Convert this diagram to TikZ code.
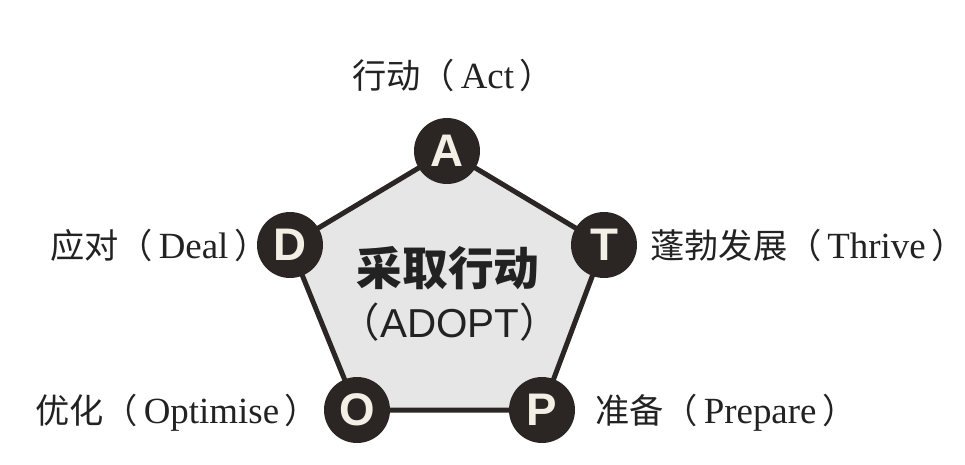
\documentclass[tikz,border=0pt]{standalone}
\usepackage{fontspec}
\setmainfont{Liberation Serif}
\setsansfont{Liberation Sans}
\newfontfamily\cjk{Noto Sans CJK SC}
\definecolor{dark}{HTML}{2B2624}
\definecolor{cream}{HTML}{F4EFE4}
\definecolor{penta}{HTML}{E6E6E6}
\definecolor{txt}{HTML}{222222}
\newcommand{\lat}[1]{{\fontsize{21}{22}\selectfont #1}}
\newcommand{\rp}{{\cjk ）}\kern-0.45em}
\begin{document}
\begin{tikzpicture}[x=0.02cm,y=-0.02cm,
  letter/.style={circle,fill=dark,minimum size=66*0.02cm,inner sep=0pt,text=cream,font=\sffamily\bfseries\fontsize{26}{26}\selectfont},
  lbl/.style={text=txt,font=\fontsize{19.5}{22}\selectfont,inner sep=0pt},
  edge/.style={line width=5*0.02cm,draw=dark}]
\useasboundingbox (0,0) rectangle (965,464);
\fill[white] (0,0) rectangle (965,464);
\coordinate (cA) at (447,151);
\coordinate (cT) at (604,245);
\coordinate (cP) at (542,410);
\coordinate (cO) at (357,410);
\coordinate (cD) at (290,245);
\fill[penta] (cA) -- (cT) -- (cP) -- (cO) -- (cD) -- cycle;
\draw[edge] (cA) -- (cT) -- (cP) -- (cO) -- (cD) -- cycle;
\node[letter] (A) at (cA) {A};
\node[letter] (T) at (cT) {T};
\node[letter] (P) at (cP) {P};
\node[letter] (O) at (cO) {O};
\node[letter] (D) at (cD) {D};
\node[text=txt,font=\cjk\bfseries\fontsize{26}{30}\selectfont,inner sep=0pt] (title) at (448,268) {采取行动};
\node[text=txt,font=\fontsize{23}{28}\selectfont,inner sep=0pt] (sub) at (450,322) {{\cjk （}{\sffamily ADOPT}{\cjk ）}};
\node[lbl,anchor=west] (lA) at (352,75) {{\cjk 行动（}\,\lat{Act}\,\rp};
\node[lbl,anchor=west] (lD) at (50,245) {{\cjk 应对（}\,\lat{Deal}\,\rp};
\node[lbl,anchor=west] (lT) at (650,245) {{\cjk 蓬勃发展（}\,\lat{Thrive}\,\rp};
\node[lbl,anchor=west] (lO) at (35,413) {{\cjk 优化（}\,\lat{Optimise}\,\rp};
\node[lbl,anchor=west] (lP) at (595,413) {{\cjk 准备（}\,\lat{Prepare}\,\rp};
\end{tikzpicture}
\end{document}
